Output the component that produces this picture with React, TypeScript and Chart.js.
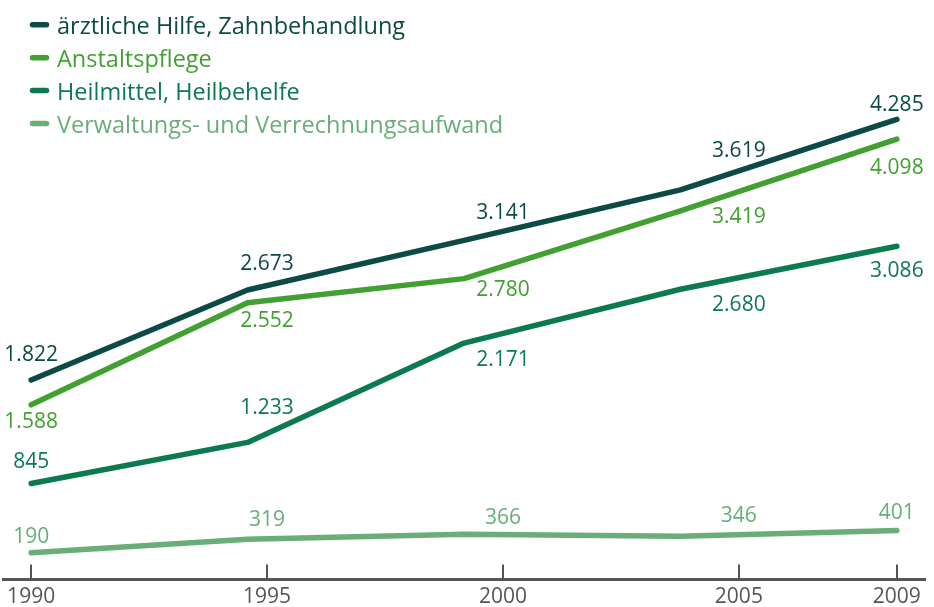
import React, { useEffect, useRef } from 'react';
import { Chart, registerables } from 'chart.js';

Chart.register(...registerables);

// ---- data ----
const YEARS = ['1990', '1995', '2000', '2005', '2009'];
const SERIES_NAMES = [
  'ärztliche Hilfe, Zahnbehandlung',
  'Anstaltspflege',
  'Heilmittel, Heilbehelfe',
  'Verwaltungs- und Verrechnungsaufwand',
];
const AERZTLICHE_HILFE = [1822, 2673, 3141, 3619, 4285];
const ANSTALTSPFLEGE = [1588, 2552, 2780, 3419, 4098];
const HEILMITTEL = [845, 1233, 2171, 2680, 3086];
const VERWALTUNG = [190, 319, 366, 346, 401];

// ---- styling / layout ----
const COLORS = ['#0b4a45', '#42a032', '#0b7a4f', '#69ad79'];
const FONT = "'Open Sans', sans-serif";
// where the year ticks sit on the index axis
const TICK_POS = [0, 1.09, 2.18, 3.27, 4];
// vertical offsets of value labels (px) relative to each point
const LABEL_DY = [
  [-25, -26, -27, -39, -14],
  [17, 18, 11, 6, 29],
  [-21, -34, 17, 16, 25],
  [-16, -19, -16, -20, -17],
];

const fmt = (v: number) =>
  v >= 1000 ? `${Math.floor(v / 1000)}.${String(v % 1000).padStart(3, '0')}` : String(v);

const valueLabels = {
  id: 'valueLabels',
  afterDatasetsDraw(chart: any) {
    const { ctx } = chart;
    const xs = chart.scales.x;
    const ys = chart.scales.y;
    ctx.save();
    ctx.font = `21px ${FONT}`;
    ctx.textAlign = 'center';
    ctx.textBaseline = 'middle';
    chart.data.datasets.forEach((ds: any, i: number) => {
      ctx.fillStyle = COLORS[i];
      ds.data.forEach((pt: any, j: number) => {
        const x = xs.getPixelForValue(TICK_POS[j]);
        const y = ys.getPixelForValue(pt.y) + LABEL_DY[i][j];
        ctx.fillText(fmt(pt.y), x, y);
      });
    });
    ctx.restore();
  },
};

const customLegend = {
  id: 'customLegend',
  afterDraw(chart: any) {
    const { ctx } = chart;
    ctx.save();
    ctx.font = `23.5px ${FONT}`;
    ctx.textAlign = 'left';
    ctx.textBaseline = 'alphabetic';
    chart.data.datasets.forEach((ds: any, i: number) => {
      const base = 34.3 + i * 32.9;
      const my = base - 9.5;
      ctx.strokeStyle = COLORS[i];
      ctx.lineWidth = 5.5;
      ctx.lineCap = 'round';
      ctx.beginPath();
      ctx.moveTo(32.5, my);
      ctx.lineTo(46.5, my);
      ctx.stroke();
      ctx.fillStyle = COLORS[i];
      ctx.fillText(ds.label, 57, base);
    });
    ctx.restore();
  },
};

export default function App() {
  const ref = useRef<HTMLCanvasElement | null>(null);

  useEffect(() => {
    if (!ref.current) return;
    const seriesValues = [AERZTLICHE_HILFE, ANSTALTSPFLEGE, HEILMITTEL, VERWALTUNG];
    const chart = new Chart(ref.current, {
      type: 'line',
      data: {
        datasets: seriesValues.map((vals, i) => ({
          label: SERIES_NAMES[i],
          data: vals.map((v, j) => ({ x: j, y: v })),
          borderColor: COLORS[i],
          backgroundColor: COLORS[i],
          borderWidth: 5.5,
          borderCapStyle: 'round',
          borderJoinStyle: 'round',
          pointRadius: 0,
          pointHoverRadius: 0,
          tension: 0,
          clip: false,
        })),
      },
      options: {
        responsive: false,
        animation: false,
        layout: { padding: { left: 3, right: 9, top: 0, bottom: 0 } },
        plugins: {
          legend: { display: false },
          tooltip: { enabled: false },
        },
        scales: {
          x: {
            type: 'linear',
            min: -0.13,
            max: 4.13,
            afterBuildTicks: (scale: any) => {
              scale.ticks = TICK_POS.map((v) => ({ value: v }));
            },
            afterFit: (scale: any) => {
              scale.height = 27.5;
              scale.paddingLeft = 0;
              scale.paddingRight = 0;
            },
            ticks: {
              autoSkip: false,
              maxRotation: 0,
              minRotation: 0,
              padding: 20,
              color: '#555555',
              font: { family: FONT, size: 21 },
              callback: (_v: any, idx: number) => YEARS[idx],
            },
            grid: {
              display: true,
              drawOnChartArea: false,
              drawTicks: true,
              tickLength: -15,
              color: '#555555',
              lineWidth: 2,
            },
            border: { display: true, color: '#555555', width: 3 },
          },
          y: {
            display: false,
            min: -62,
            max: 5412,
          },
        },
      },
      plugins: [valueLabels, customLegend],
    } as any);
    return () => chart.destroy();
  }, []);

  return (
    <div style={{ position: 'fixed', left: 0, top: 0, width: 934, height: 607, background: '#fff' }}>
      <canvas ref={ref} width={934} height={607} />
    </div>
  );
}
